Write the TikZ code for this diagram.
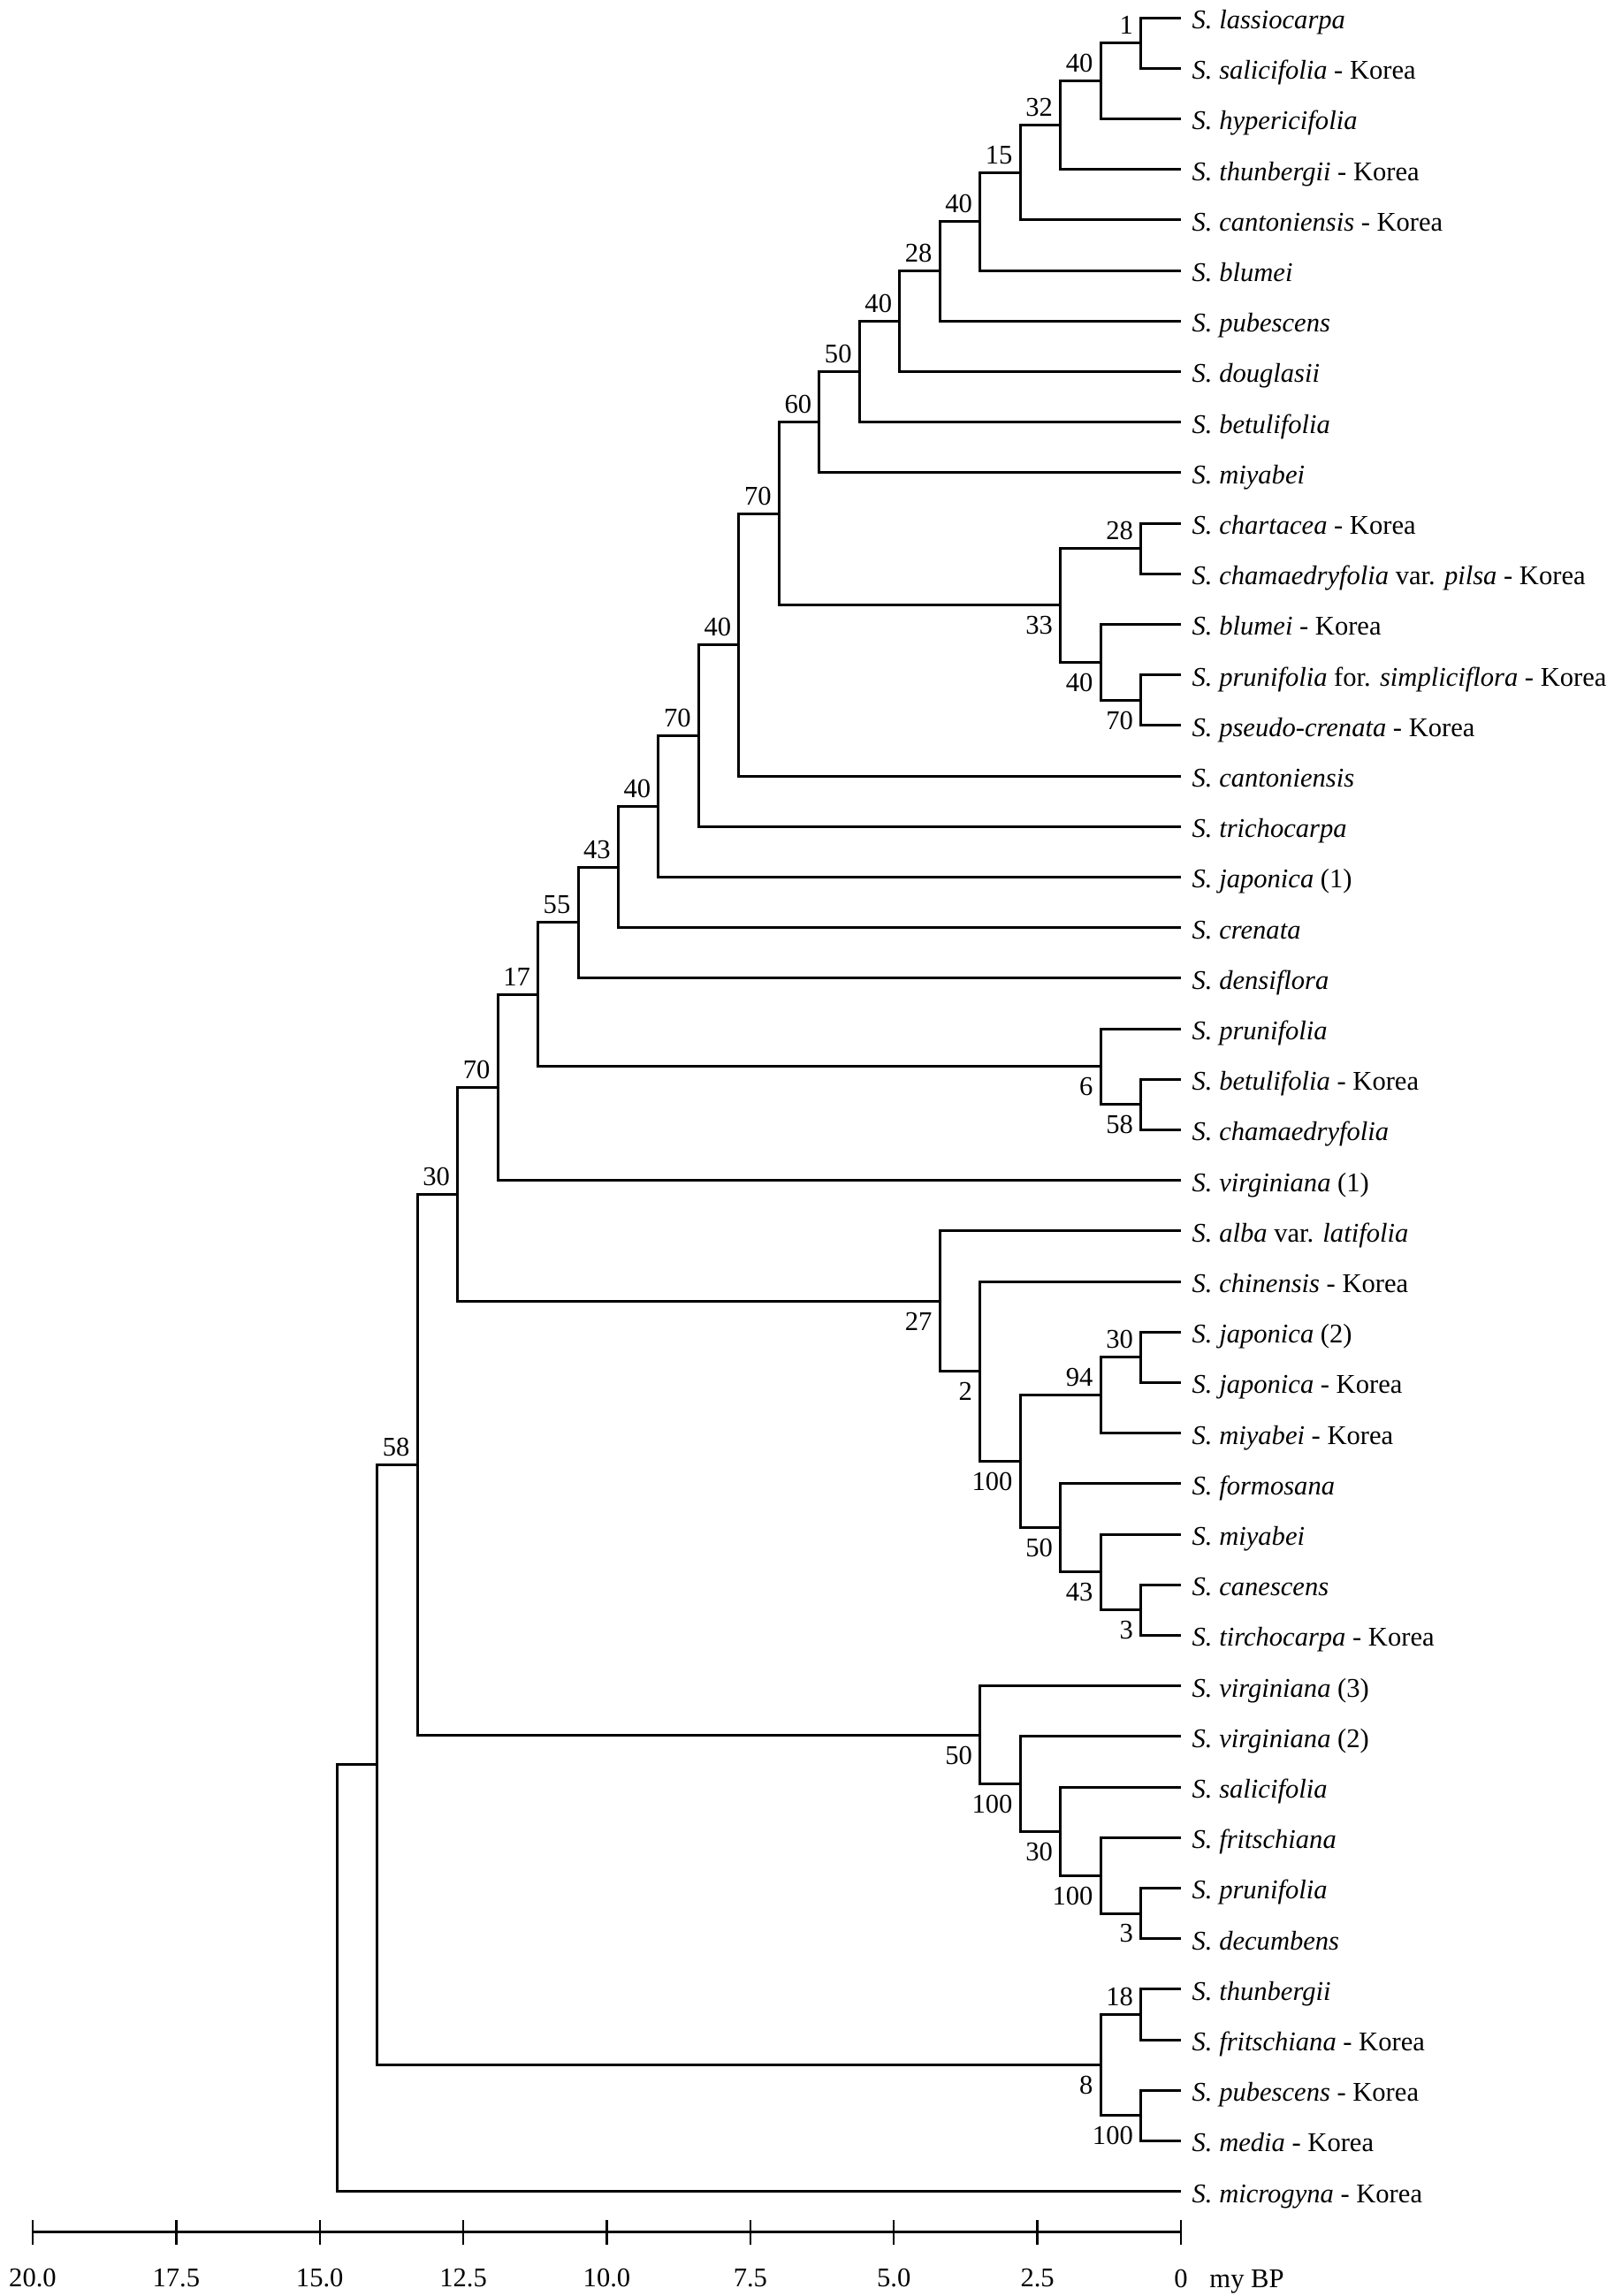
\documentclass[tikz,border=0pt]{standalone}
\usepackage{fontspec}
\setmainfont{Liberation Serif}
\usetikzlibrary{positioning}

\begin{document}
\begin{tikzpicture}[x=-0.6495cm, y=-0.572cm, font=\fontsize{8.7}{10}\selectfont]%

            \tikzstyle{brl} = [ line width = 0.85pt, line join = miter]
            \tikzstyle{tax} = [ anchor = west, inner xsep = 0.12cm, inner ysep = 0pt, text height = 7.1pt, text depth = 0pt]
            \tikzstyle{bsa} = [ anchor = south east, inner xsep = 0.08cm, inner ysep = 0.09cm]
            \tikzstyle{bsb} = [ anchor = north east, inner xsep = 0.08cm, inner ysep = 0.12cm]
        %%
            \useasboundingbox (20.57,0.65) rectangle (-7.42,46.07);

                %% Taxa
                \node [tax] (l1) at (0,1) {\textit{S. lassiocarpa}};
                \node [tax] (l2) at (0,2) {\textit{S. salicifolia} - Korea};
                \node [tax] (l3) at (0,3) {\textit{S. hypericifolia}};
                \node [tax] (l4) at (0,4) {\textit{S. thunbergii} - Korea};
                \node [tax] (l5) at (0,5) {\textit{S. cantoniensis} - Korea};
                \node [tax] (l6) at (0,6) {\textit{S. blumei}};
                \node [tax] (l7) at (0,7) {\textit{S. pubescens}};
                \node [tax] (l8) at (0,8) {\textit{S. douglasii}};
                \node [tax] (l9) at (0,9) {\textit{S. betulifolia}};
                \node [tax] (l10) at (0,10) {\textit{S. miyabei}};
                \node [tax] (l11) at (0,11) {\textit{S. chartacea} - Korea};
                \node [tax] (l12) at (0,12) {\textit{S. chamaedryfolia} var. \textit{pilsa} - Korea};
                \node [tax] (l13) at (0,13) {\textit{S. blumei} - Korea};
                \node [tax] (l14) at (0,14) {\textit{S. prunifolia} for. \textit{simpliciflora} - Korea};
                \node [tax] (l15) at (0,15) {\textit{S. pseudo-crenata} - Korea};
                \node [tax] (l16) at (0,16) {\textit{S. cantoniensis}};
                \node [tax] (l17) at (0,17) {\textit{S. trichocarpa}};
                \node [tax] (l18) at (0,18) {\textit{S. japonica} (1)};
                \node [tax] (l19) at (0,19) {\textit{S. crenata}};
                \node [tax] (l20) at (0,20) {\textit{S. densiflora}};
                \node [tax] (l21) at (0,21) {\textit{S. prunifolia}};
                \node [tax] (l22) at (0,22) {\textit{S. betulifolia} - Korea};
                \node [tax] (l23) at (0,23) {\textit{S. chamaedryfolia}};
                \node [tax] (l24) at (0,24) {\textit{S. virginiana} (1)};
                \node [tax] (l25) at (0,25) {\textit{S. alba} var. \textit{latifolia}};
                \node [tax] (l26) at (0,26) {\textit{S. chinensis} - Korea};
                \node [tax] (l27) at (0,27) {\textit{S. japonica} (2)};
                \node [tax] (l28) at (0,28) {\textit{S. japonica} - Korea};
                \node [tax] (l29) at (0,29) {\textit{S. miyabei} - Korea};
                \node [tax] (l30) at (0,30) {\textit{S. formosana}};
                \node [tax] (l31) at (0,31) {\textit{S. miyabei}};
                \node [tax] (l32) at (0,32) {\textit{S. canescens}};
                \node [tax] (l33) at (0,33) {\textit{S. tirchocarpa} - Korea};
                \node [tax] (l34) at (0,34) {\textit{S. virginiana} (3)};
                \node [tax] (l35) at (0,35) {\textit{S. virginiana} (2)};
                \node [tax] (l36) at (0,36) {\textit{S. salicifolia}};
                \node [tax] (l37) at (0,37) {\textit{S. fritschiana}};
                \node [tax] (l38) at (0,38) {\textit{S. prunifolia}};
                \node [tax] (l39) at (0,39) {\textit{S. decumbens}};
                \node [tax] (l40) at (0,40) {\textit{S. thunbergii}};
                \node [tax] (l41) at (0,41) {\textit{S. fritschiana} - Korea};
                \node [tax] (l42) at (0,42) {\textit{S. pubescens} - Korea};
                \node [tax] (l43) at (0,43) {\textit{S. media} - Korea};
                \node [tax] (l44) at (0,44) {\textit{S. microgyna} - Korea};

                %% Internal nodes
                \coordinate (a1) at (0.7,1.5);
                \coordinate (a2) at (1.4,2.25);
                \coordinate (a3) at (2.1,3.125);
                \coordinate (a4) at (2.8,4.063);
                \coordinate (a5) at (3.5,5.031);
                \coordinate (a6) at (4.2,6.016);
                \coordinate (a7) at (4.9,7.008);
                \coordinate (a8) at (5.6,8.004);
                \coordinate (a9) at (6.3,9.002);
                \coordinate (b2) at (0.7,11.5);
                \coordinate (b4) at (0.7,14.5);
                \coordinate (b3) at (1.4,13.75);
                \coordinate (b1) at (2.1,12.625);
                \coordinate (a10) at (7.0,10.814);
                \coordinate (a11) at (7.7,13.407);
                \coordinate (a12) at (8.4,15.203);
                \coordinate (a13) at (9.1,16.602);
                \coordinate (a14) at (9.8,17.801);
                \coordinate (a15) at (10.5,18.9);
                \coordinate (c2) at (0.7,22.5);
                \coordinate (c1) at (1.4,21.75);
                \coordinate (a16) at (11.2,20.325);
                \coordinate (a17) at (11.9,22.163);
                \coordinate (d5) at (0.7,27.5);
                \coordinate (d4) at (1.4,28.25);
                \coordinate (d8) at (0.7,32.5);
                \coordinate (d7) at (1.4,31.75);
                \coordinate (d6) at (2.1,30.875);
                \coordinate (d3) at (2.8,29.563);
                \coordinate (d2) at (3.5,27.781);
                \coordinate (d1) at (4.2,26.391);
                \coordinate (a18) at (12.6,24.277);
                \coordinate (e5) at (0.7,38.5);
                \coordinate (e4) at (1.4,37.75);
                \coordinate (e3) at (2.1,36.875);
                \coordinate (e2) at (2.8,35.938);
                \coordinate (e1) at (3.5,34.969);
                \coordinate (a19) at (13.3,29.623);
                \coordinate (f2) at (0.7,40.5);
                \coordinate (f3) at (0.7,42.5);
                \coordinate (f1) at (1.4,41.5);
                \coordinate (a20) at (14.0,35.561);
                \coordinate (a21) at (14.7,39.781);

                %% Branches
                \draw[brl] (l1.west) -| (a1) |- (l2.west);
                \draw[brl] (a1) -| (a2) |- (l3.west);
                \draw[brl] (a2) -| (a3) |- (l4.west);
                \draw[brl] (a3) -| (a4) |- (l5.west);
                \draw[brl] (a4) -| (a5) |- (l6.west);
                \draw[brl] (a5) -| (a6) |- (l7.west);
                \draw[brl] (a6) -| (a7) |- (l8.west);
                \draw[brl] (a7) -| (a8) |- (l9.west);
                \draw[brl] (a8) -| (a9) |- (l10.west);
                \draw[brl] (l11.west) -| (b2) |- (l12.west);
                \draw[brl] (l14.west) -| (b4) |- (l15.west);
                \draw[brl] (l13.west) -| (b3) |- (b4);
                \draw[brl] (b2) -| (b1) |- (b3);
                \draw[brl] (a9) -| (a10) |- (b1);
                \draw[brl] (a10) -| (a11) |- (l16.west);
                \draw[brl] (a11) -| (a12) |- (l17.west);
                \draw[brl] (a12) -| (a13) |- (l18.west);
                \draw[brl] (a13) -| (a14) |- (l19.west);
                \draw[brl] (a14) -| (a15) |- (l20.west);
                \draw[brl] (l22.west) -| (c2) |- (l23.west);
                \draw[brl] (l21.west) -| (c1) |- (c2);
                \draw[brl] (a15) -| (a16) |- (c1);
                \draw[brl] (a16) -| (a17) |- (l24.west);
                \draw[brl] (l27.west) -| (d5) |- (l28.west);
                \draw[brl] (d5) -| (d4) |- (l29.west);
                \draw[brl] (l32.west) -| (d8) |- (l33.west);
                \draw[brl] (l31.west) -| (d7) |- (d8);
                \draw[brl] (l30.west) -| (d6) |- (d7);
                \draw[brl] (d4) -| (d3) |- (d6);
                \draw[brl] (l26.west) -| (d2) |- (d3);
                \draw[brl] (l25.west) -| (d1) |- (d2);
                \draw[brl] (a17) -| (a18) |- (d1);
                \draw[brl] (l38.west) -| (e5) |- (l39.west);
                \draw[brl] (l37.west) -| (e4) |- (e5);
                \draw[brl] (l36.west) -| (e3) |- (e4);
                \draw[brl] (l35.west) -| (e2) |- (e3);
                \draw[brl] (l34.west) -| (e1) |- (e2);
                \draw[brl] (a18) -| (a19) |- (e1);
                \draw[brl] (l40.west) -| (f2) |- (l41.west);
                \draw[brl] (l42.west) -| (f3) |- (l43.west);
                \draw[brl] (f2) -| (f1) |- (f3);
                \draw[brl] (a19) -| (a20) |- (f1);
                \draw[brl] (a20) -| (a21) |- (l44.west);

                %% Support values
                \node [bsa] (s_a1) at (a1) {1};
                \node [bsa] (s_a2) at (a2) {40};
                \node [bsa] (s_a3) at (a3) {32};
                \node [bsa] (s_a4) at (a4) {15};
                \node [bsa] (s_a5) at (a5) {40};
                \node [bsa] (s_a6) at (a6) {28};
                \node [bsa] (s_a7) at (a7) {40};
                \node [bsa] (s_a8) at (a8) {50};
                \node [bsa] (s_a9) at (a9) {60};
                \node [bsa] (s_a10) at (a10) {70};
                \node [bsa] (s_b2) at (b2) {28};
                \node [bsb] (s_b1) at (b1) {33};
                \node [bsb] (s_b3) at (b3) {40};
                \node [bsb] (s_b4) at (b4) {70};
                \node [bsa] (s_a11) at (a11) {40};
                \node [bsa] (s_a12) at (a12) {70};
                \node [bsa] (s_a13) at (a13) {40};
                \node [bsa] (s_a14) at (a14) {43};
                \node [bsa] (s_a15) at (a15) {55};
                \node [bsa] (s_a16) at (a16) {17};
                \node [bsb] (s_c1) at (c1) {6};
                \node [bsb] (s_c2) at (c2) {58};
                \node [bsa] (s_a17) at (a17) {70};
                \node [bsa] (s_a18) at (a18) {30};
                \node [bsb] (s_d1) at (d1) {27};
                \node [bsb] (s_d2) at (d2) {2};
                \node [bsb] (s_d3) at (d3) {100};
                \node [bsa] (s_d4) at (d4) {94};
                \node [bsa] (s_d5) at (d5) {30};
                \node [bsb] (s_d6) at (d6) {50};
                \node [bsb] (s_d7) at (d7) {43};
                \node [bsb] (s_d8) at (d8) {3};
                \node [bsa] (s_a19) at (a19) {58};
                \node [bsb] (s_e1) at (e1) {50};
                \node [bsb] (s_e2) at (e2) {100};
                \node [bsb] (s_e3) at (e3) {30};
                \node [bsb] (s_e4) at (e4) {100};
                \node [bsb] (s_e5) at (e5) {3};
                \node [bsb] (s_f1) at (f1) {8};
                \node [bsa] (s_f2) at (f2) {18};
                \node [bsb] (s_f3) at (f3) {100};

                %% Time scale
                \coordinate (ax20) at (20,44.81);
                \coordinate (ax0) at (0,44.81);
                \draw[brl] (ax20) -- (ax0);
                \foreach \t/\lab [count=\k] in {20/20.0, 17.5/17.5, 15/15.0, 12.5/12.5, 10/10.0, 7.5/7.5, 5/5.0, 2.5/2.5, 0/0}
                {
                    \draw[line width = 0.7pt] (\t,44.57) -- (\t,45.06);
                    \node (tk\k) at (\t,45.72) {\lab};
                }
                \node [base right = 0pt of tk9] (unit) {my BP};
        \end{tikzpicture}
\end{document}
